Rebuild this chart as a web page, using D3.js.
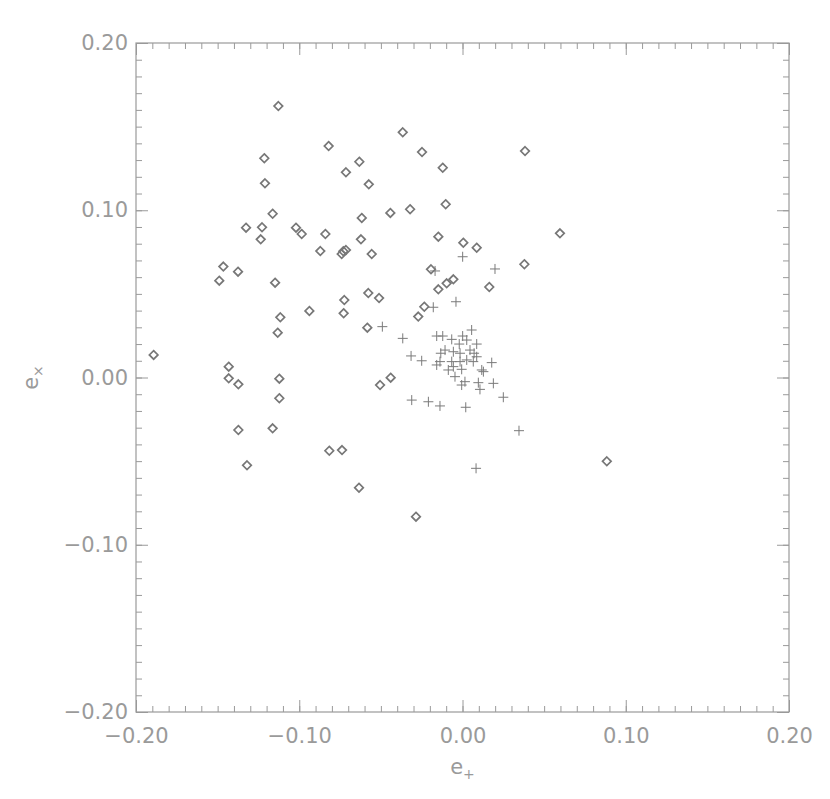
<!DOCTYPE html>
<html>
<head>
<meta charset="utf-8">
<script src="https://cdn.jsdelivr.net/npm/d3@7"></script>
<style>
  body { margin: 0; background: #fff; }
  svg text { font-family: "DejaVu Sans", "Liberation Sans", sans-serif; fill: #9a9a9a; }
</style>
</head>
<body>
<script>
// diamonds: [e+, ex]
var diamonds = [
  [-0.1128, 0.1623], [-0.0820, 0.1384], [-0.1214, 0.1311], [-0.1210, 0.1161],
  [-0.1163, 0.0979], [-0.1326, 0.0896], [-0.1228, 0.0898], [-0.1236, 0.0826],
  [-0.1020, 0.0896], [-0.0985, 0.0858], [-0.0840, 0.0858], [-0.0871, 0.0756],
  [-0.1465, 0.0663], [-0.1375, 0.0633], [-0.1490, 0.0579], [-0.1148, 0.0567],
  [-0.0938, 0.0398], [-0.0728, 0.0384], [-0.0724, 0.0463], [-0.1116, 0.0360],
  [-0.1132, 0.0268], [-0.1892, 0.0135], [-0.1432, 0.0065], [-0.1432, -0.0005],
  [-0.1373, -0.0041], [-0.1122, -0.0007], [-0.1122, -0.0124], [-0.1373, -0.0314],
  [-0.1163, -0.0304], [-0.0816, -0.0438], [-0.0738, -0.0434], [-0.1320, -0.0525],
  [-0.0634, -0.0659], [-0.0366, 0.1466], [-0.0248, 0.1348], [-0.0121, 0.1254],
  [0.0383, 0.1354], [-0.0632, 0.1290], [-0.0714, 0.1227], [-0.0574, 0.1155],
  [-0.0442, 0.0984], [-0.0321, 0.1006], [-0.0103, 0.1036], [-0.0617, 0.0954],
  [-0.0622, 0.0826], [-0.0730, 0.0755], [-0.0740, 0.0738], [-0.0714, 0.0762],
  [-0.0556, 0.0738], [0.0597, 0.0862], [-0.0148, 0.0842], [0.0005, 0.0806],
  [0.0087, 0.0776], [0.0379, 0.0677], [-0.0193, 0.0647], [-0.0056, 0.0587],
  [-0.0097, 0.0563], [-0.0148, 0.0527], [0.0164, 0.0541], [-0.0577, 0.0505],
  [-0.0511, 0.0475], [-0.0234, 0.0423], [-0.0271, 0.0364], [-0.0583, 0.0298],
  [-0.0440, -0.0001], [-0.0505, -0.0045], [0.0884, -0.0501], [-0.0285, -0.0832]
];

// crosses: [e+, ex]
var crosses = [
  [0.0001, 0.0722], [0.0199, 0.0649], [-0.0168, 0.0637], [-0.0040, 0.0453],
  [-0.0179, 0.0420], [-0.0491, 0.0304], [-0.0366, 0.0234], [0.0056, 0.0284],
  [-0.0158, 0.0248], [-0.0121, 0.0248], [-0.0066, 0.0228], [0.0001, 0.0248],
  [-0.0020, 0.0200], [0.0026, 0.0224], [0.0087, 0.0200], [-0.0107, 0.0164],
  [-0.0133, 0.0145], [-0.0056, 0.0154], [-0.0015, 0.0145], [0.0046, 0.0164],
  [0.0071, 0.0145], [0.0087, 0.0124], [-0.0250, 0.0100], [-0.0138, 0.0095],
  [-0.0158, 0.0075], [-0.0066, 0.0095], [-0.0056, 0.0065], [-0.0015, 0.0095],
  [0.0026, 0.0105], [0.0066, 0.0095], [0.0179, 0.0089], [-0.0087, 0.0045],
  [-0.0046, 0.0005], [-0.0005, 0.0049], [0.0118, 0.0045], [0.0128, 0.0035],
  [0.0015, -0.0025], [-0.0005, -0.0045], [0.0097, -0.0031], [0.0107, -0.0071],
  [0.0189, -0.0035], [0.0250, -0.0118], [-0.0209, -0.0145], [-0.0138, -0.0170],
  [0.0020, -0.0178], [-0.0311, -0.0135], [-0.0315, 0.0129], [0.0346, -0.0318],
  [0.0083, -0.0543]
];

var majorTicks = [-0.2, -0.1, 0.0, 0.1, 0.2];
var minorTicks = d3.range(-20, 21).map(function(i) { return i / 100; });

var margin = {top: 43, right: 41, bottom: 87, left: 136},
    w = 830 - margin.left - margin.right,
    h = 799 - margin.top - margin.bottom;

var xScale = d3.scaleLinear().domain([-0.2, 0.2]).range([0, w]);
var yScale = d3.scaleLinear().domain([-0.2, 0.2]).range([h, 0]);

var svg = d3.select("body")
  .append("svg")
  .attr("width", 830)
  .attr("height", 799)
  .append("g")
  .attr("transform", "translate(" + margin.left + "," + margin.top + ")");

var fmt = d3.format(".2f");
var axisColor = "#9a9a9a";

function styleAxis(g) {
  g.select(".domain").remove();
  g.selectAll("line").attr("stroke", axisColor).attr("stroke-width", 1);
  g.selectAll("text").attr("font-size", 21).attr("fill", axisColor);
}

// minor ticks on all four sides
svg.append("g").attr("transform", "translate(0," + h + ")")
  .call(d3.axisBottom(xScale).tickValues(minorTicks).tickSize(-6).tickFormat(""))
  .call(styleAxis);
svg.append("g")
  .call(d3.axisTop(xScale).tickValues(minorTicks).tickSize(-6).tickFormat(""))
  .call(styleAxis);
svg.append("g")
  .call(d3.axisLeft(yScale).tickValues(minorTicks).tickSize(-6).tickFormat(""))
  .call(styleAxis);
svg.append("g").attr("transform", "translate(" + w + ",0)")
  .call(d3.axisRight(yScale).tickValues(minorTicks).tickSize(-6).tickFormat(""))
  .call(styleAxis);

// major ticks
svg.append("g").attr("transform", "translate(0," + h + ")")
  .call(d3.axisBottom(xScale).tickValues(majorTicks).tickSize(-12).tickPadding(16).tickFormat(fmt))
  .call(styleAxis);
svg.append("g")
  .call(d3.axisTop(xScale).tickValues(majorTicks).tickSize(-12).tickFormat(""))
  .call(styleAxis);
svg.append("g")
  .call(d3.axisLeft(yScale).tickValues(majorTicks).tickSize(-12).tickPadding(8).tickFormat(fmt))
  .call(styleAxis);
svg.append("g").attr("transform", "translate(" + w + ",0)")
  .call(d3.axisRight(yScale).tickValues(majorTicks).tickSize(-12).tickFormat(""))
  .call(styleAxis);

// frame
svg.append("rect")
  .attr("width", w)
  .attr("height", h)
  .attr("fill", "none")
  .attr("stroke", axisColor)
  .attr("stroke-width", 1.2);

// axis titles
var xt = svg.append("text")
  .attr("x", w / 2)
  .attr("y", h + 62)
  .attr("text-anchor", "middle")
  .attr("font-size", 21);
xt.append("tspan").text("e");
xt.append("tspan").attr("dy", 5).attr("font-size", 14).text("+");

var yt = svg.append("text")
  .attr("transform", "translate(" + (-98) + "," + (h / 2) + ") rotate(-90)")
  .attr("text-anchor", "middle")
  .attr("font-size", 21);
yt.append("tspan").text("e");
yt.append("tspan").attr("dy", 5).attr("font-size", 14).text("×");

// diamond markers
var ds = 4.3;
svg.selectAll(".diamond")
  .data(diamonds)
  .enter().append("path")
  .attr("class", "diamond")
  .attr("d", function(d) {
    var x = xScale(d[0]), y = yScale(d[1]);
    return "M" + x + "," + (y - ds) + "L" + (x + ds) + "," + y +
           "L" + x + "," + (y + ds) + "L" + (x - ds) + "," + y + "Z";
  })
  .attr("fill", "none")
  .attr("stroke", "#777")
  .attr("stroke-width", 1.7);

// plus markers
var ps = 5;
svg.selectAll(".cross")
  .data(crosses)
  .enter().append("path")
  .attr("class", "cross")
  .attr("d", function(d) {
    var x = xScale(d[0]), y = yScale(d[1]);
    return "M" + (x - ps) + "," + y + "H" + (x + ps) +
           "M" + x + "," + (y - ps) + "V" + (y + ps);
  })
  .attr("fill", "none")
  .attr("stroke", "#7a7a7a")
  .attr("stroke-width", 1);
</script>
</body>
</html>
